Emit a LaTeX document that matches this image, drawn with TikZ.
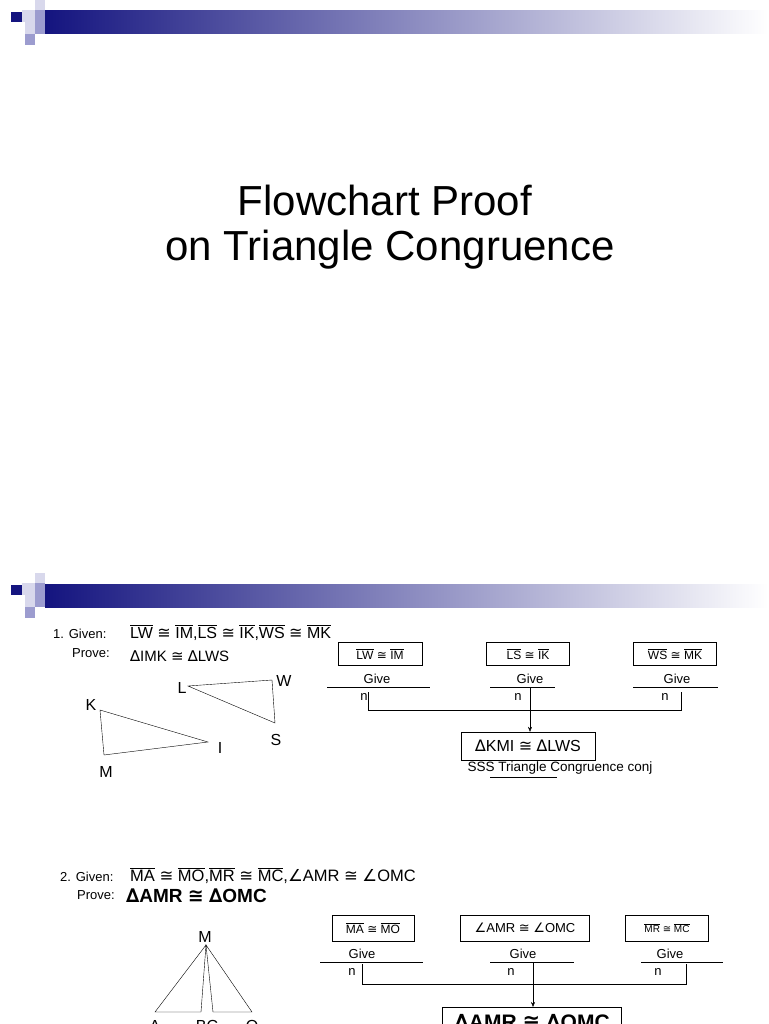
\documentclass[tikz,border=0pt]{standalone}
\usepackage{fontspec}
\usetikzlibrary{arrows.meta}
\setmainfont{Liberation Sans}
\newfontfamily\dv{DejaVu Sans}
\newcommand{\cg}{{\dv ≅}}
\newcommand{\tri}{{\dv ∆}}
\newcommand{\ang}{{\dv ∠}}
\newcommand{\ovl}[1]{$\overline{\hbox{#1}}$}
\definecolor{navy}{HTML}{14147F}
\definecolor{sqA}{HTML}{D8D8EC}
\definecolor{sqB}{HTML}{9C9CCF}
\begin{document}
\begin{tikzpicture}[x=1pt,y=-1pt,
 lbl/.style={inner sep=0pt,anchor=base west},
 pbox/.style={draw,thin,inner sep=0pt,minimum height=23pt},
 conn/.style={thin},
 arr/.style={thin,-{Stealth[length=5pt,width=4pt]}}]
\useasboundingbox (0,0) rectangle (768,1024);
\clip (0,0) rectangle (768,1024);
\foreach \oy in {0,573}{
 \begin{scope}[yshift=-\oy pt]
 \shade[left color=navy,right color=white] (45,11) rectangle (768,34);
 \fill[navy] (11,12) rectangle (22,22);
 \fill[sqA] (22,10) rectangle (35,22);
 \fill[sqA] (35,0) rectangle (45,10);
 \fill[sqB] (35,10) rectangle (45,22);
 \fill[sqA] (25,22) rectangle (35,34);
 \fill[sqB] (35,22) rectangle (45,34);
 \fill[sqB] (25,34) rectangle (35,45);
 \end{scope}}
\node (t1) at (385,200) {\fontsize{42}{48}\selectfont Flowchart Proof};
\node (t2) at (390,250) {\fontsize{42}{48}\selectfont on Triangle Congruence};
% section 1
\node[lbl] (g1) at (53,638) {\fontsize{13}{15}\selectfont 1. Given:};
\node[lbl] (g1f) at (130,638) {\fontsize{16}{18}\selectfont \ovl{LW} \cg\ \ovl{IM},\ovl{LS} \cg\ \ovl{IK},\ovl{WS} \cg\ \ovl{MK}};
\node[lbl] (p1) at (72,657) {\fontsize{13}{15}\selectfont Prove:};
\node[lbl] (p1f) at (130,661) {\fontsize{15}{17}\selectfont \tri IMK \cg\ \tri LWS};
\coordinate (K) at (100,710); \coordinate (I) at (208,742); \coordinate (M) at (104,755);
\draw (K)--(I)--(M)--cycle;
\coordinate (L) at (188,686); \coordinate (W) at (272,680); \coordinate (S) at (275,723);
\draw (L)--(W)--(S)--cycle;
\node (lK) at (91,705) {\fontsize{16}{18}\selectfont K};
\node (lI) at (220,748) {\fontsize{16}{18}\selectfont I};
\node (lM) at (106,772) {\fontsize{16}{18}\selectfont M};
\node (lL) at (182,688) {\fontsize{16}{18}\selectfont L};
\node (lW) at (284,681) {\fontsize{16}{18}\selectfont W};
\node (lS) at (276,740) {\fontsize{16}{18}\selectfont S};
\node[pbox,minimum width=84pt] (b1) at (380,654) {\fontsize{12}{14}\selectfont \ovl{LW} \cg\ \ovl{IM}};
\node[pbox,minimum width=83pt] (b2) at (528,654) {\fontsize{12}{14}\selectfont \ovl{LS} \cg\ \ovl{IK}};
\node[pbox,minimum width=83pt] (b3) at (675,654) {\fontsize{12}{14}\selectfont \ovl{WS} \cg\ \ovl{MK}};
\foreach \n/\x/\a/\b in {1/377/327/430,2/530/490/555,3/677/633/718}{
 \node (gv\n) at (\x,679) {\fontsize{13}{15}\selectfont Give};
 \draw (\a,687) -- (\b,687);}
\node (n1) at (364,697) {\fontsize{13}{15}\selectfont n};
\node (n2) at (518,697) {\fontsize{13}{15}\selectfont n};
\node (n3) at (665,697) {\fontsize{13}{15}\selectfont n};
\node[pbox,minimum width=134pt,minimum height=28pt] (r1) at (528,746) {\fontsize{16}{18}\selectfont \tri KMI \cg\ \tri LWS};
\node (r1l) at (560,768) {\fontsize{13.5}{15}\selectfont SSS Triangle Congruence conj};
\draw (490,777) -- (557,777);
\coordinate (c1a) at (368,692); \coordinate (c1b) at (681,692);
\draw[conn] (c1a) -- (368,710) -- (681,710) -- (c1b);
\coordinate (a1) at (530,687);
\draw[arr] (a1) -- (a1 |- r1.north);
% section 2
\node[lbl] (g2) at (60,881) {\fontsize{13}{15}\selectfont 2. Given:};
\node[lbl] (g2f) at (130,881) {\fontsize{16.5}{18}\selectfont \ovl{MA} \cg\ \ovl{MO},\ovl{MR} \cg\ \ovl{MC},\ang AMR \cg\ \ang OMC};
\node[lbl] (p2) at (77,899) {\fontsize{13}{15}\selectfont Prove:};
\node[lbl] (p2f) at (126,902) {\fontsize{19}{21}\selectfont\bfseries \tri AMR \cg\ \tri OMC};
\coordinate (Mt) at (206,945); \coordinate (A) at (155,1012); \coordinate (B) at (201,1012);
\coordinate (C) at (213,1012); \coordinate (O) at (252,1012);
\draw (Mt)--(A)--(B)--cycle; \draw (Mt)--(C)--(O)--cycle;
\node (lMt) at (205,937) {\fontsize{16}{18}\selectfont M};
\node (lA) at (155,1026) {\fontsize{16}{18}\selectfont A};
\node (lBC) at (207,1026) {\fontsize{16}{18}\selectfont BC};
\node (lO) at (252,1026) {\fontsize{16}{18}\selectfont O};
\node[pbox,minimum width=82pt,minimum height=26pt] (b4) at (373,928) {\fontsize{12}{14}\selectfont \ovl{MA} \cg\ \ovl{MO}};
\node[pbox,minimum width=129pt,minimum height=26pt] (b5) at (525,928) {\fontsize{13}{15}\selectfont \ang AMR \cg\ \ang OMC};
\node[pbox,minimum width=83pt,minimum height=26pt] (b6) at (667,928) {\fontsize{10}{12}\selectfont \ovl{MR} \cg\ \ovl{MC}};
\foreach \n/\x/\a/\b in {4/362/320/423,5/523/490/574,6/670/641/723}{
 \node (gv\n) at (\x,954) {\fontsize{13}{15}\selectfont Give};
 \draw (\a,962) -- (\b,962);}
\node (n4) at (352,972) {\fontsize{13}{15}\selectfont n};
\node (n5) at (511,972) {\fontsize{13}{15}\selectfont n};
\node (n6) at (658,972) {\fontsize{13}{15}\selectfont n};
\node[pbox,minimum width=179pt,minimum height=30pt,anchor=north] (r2) at (532,1007) {\fontsize{21}{24}\selectfont\bfseries \tri AMR \cg\ \tri OMC};
\coordinate (c2a) at (362,964); \coordinate (c2b) at (686,964);
\draw[conn] (c2a) -- (362,984) -- (686,984) -- (c2b);
\coordinate (a2) at (533,962);
\draw[arr] (a2) -- (a2 |- r2.north);
\end{tikzpicture}
\end{document}
